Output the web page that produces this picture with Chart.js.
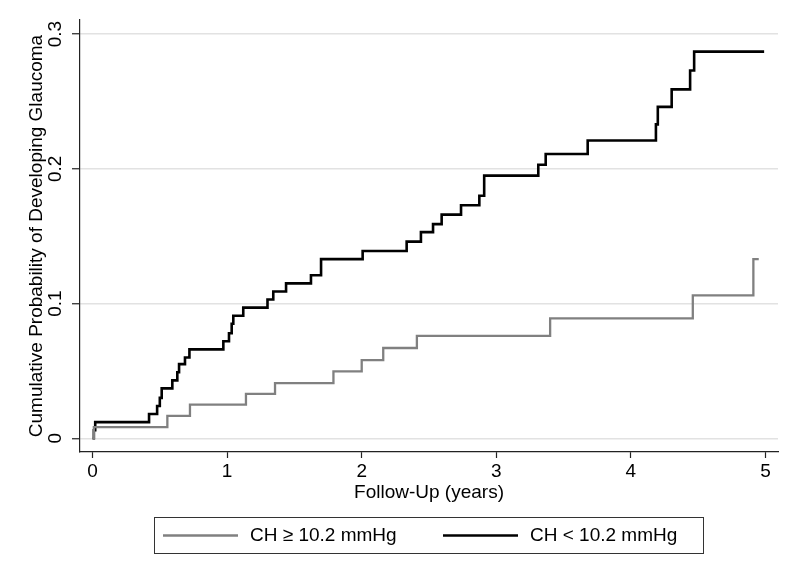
<!DOCTYPE html>
<html>
<head>
<meta charset="utf-8">
<script src="https://cdn.jsdelivr.net/npm/chart.js@4.4.1/dist/chart.umd.min.js"></script>
<style>
  html, body { margin: 0; padding: 0; background: #fff; }
  canvas { display: block; }
</style>
</head>
<body>
<canvas id="kmChart" width="800" height="581"></canvas>
<script>
// cumulative probability curves
const lowChTimes = [0, 0.01, 0.02, 0.42, 0.48, 0.50, 0.514, 0.593, 0.63, 0.643, 0.687, 0.72, 0.972, 1.014, 1.034, 1.046, 1.12, 1.30, 1.343, 1.438, 1.623, 1.698, 2.007, 2.334, 2.44, 2.53, 2.594, 2.738, 2.874, 2.91, 3.312, 3.367, 3.679, 4.186, 4.20, 4.303, 4.44, 4.47, 4.99];
const lowChProb = [0, 0.006, 0.012, 0.018, 0.024, 0.030, 0.037, 0.043, 0.049, 0.055, 0.060, 0.066, 0.072, 0.078, 0.085, 0.091, 0.097, 0.103, 0.109, 0.115, 0.121, 0.133, 0.139, 0.146, 0.153, 0.159, 0.166, 0.173, 0.180, 0.195, 0.203, 0.211, 0.221, 0.233, 0.246, 0.259, 0.273, 0.287, 0.287];

const highChTimes = [0, 0.01, 0.556, 0.724, 1.14, 1.356, 1.79, 2.0, 2.16, 2.41, 3.40, 4.46, 4.91, 4.95];
const highChProb = [0, 0.0083, 0.0166, 0.025, 0.033, 0.041, 0.0496, 0.058, 0.067, 0.076, 0.089, 0.106, 0.133, 0.133];

const xTicks = [0, 1, 2, 3, 4, 5];
const yTicks = [0, 0.1, 0.2, 0.3];
const seriesLabels = ['CH \u2265 10.2 mmHg', 'CH < 10.2 mmHg'];
const seriesColors = ['#808080', '#000000'];

function toPoints(times, probs) {
    return times.map((t, i) => ({ x: t, y: probs[i] }));
}

Chart.defaults.font.family = "'Liberation Sans', Arial, Helvetica, sans-serif";
Chart.defaults.font.size = 19;
Chart.defaults.color = '#000';

const whiteBg = {
    id: 'whiteBg',
    beforeDraw(chart) {
        const ctx = chart.ctx;
        ctx.save();
        ctx.fillStyle = '#fff';
        ctx.fillRect(0, 0, chart.width, chart.height);
        ctx.restore();
    }
};

// framed legend under the x axis title
const legendBox = {
    id: 'legendBox',
    afterDraw(chart) {
        const ctx = chart.ctx;
        const box = { left: 154.5, top: 517.5, width: 549, height: 36 };
        const midY = box.top + box.height / 2;
        const items = [
            { lineX: 163, textX: 250 },
            { lineX: 443, textX: 530 }
        ];
        ctx.save();
        ctx.strokeStyle = '#333';
        ctx.lineWidth = 1;
        ctx.strokeRect(box.left, box.top, box.width, box.height);
        chart.data.datasets.forEach((ds, i) => {
            const it = items[i];
            ctx.strokeStyle = ds.borderColor;
            ctx.lineWidth = ds.borderWidth;
            ctx.beginPath();
            ctx.moveTo(it.lineX, midY);
            ctx.lineTo(it.lineX + 75, midY);
            ctx.stroke();
            ctx.fillStyle = '#000';
            ctx.font = "19px 'Liberation Sans', Arial, sans-serif";
            ctx.textBaseline = 'middle';
            ctx.textAlign = 'left';
            ctx.fillText(ds.label, it.textX, midY);
        });
        ctx.restore();
    }
};

const ctx = document.getElementById('kmChart').getContext('2d');
window.kmChart = new Chart(ctx, {
    type: 'line',
    data: {
        datasets: [
            {
                label: seriesLabels[0],
                data: toPoints(highChTimes, highChProb),
                borderColor: seriesColors[0],
                borderWidth: 2.3,
                stepped: true,
                pointRadius: 0,
                fill: false
            },
            {
                label: seriesLabels[1],
                data: toPoints(lowChTimes, lowChProb),
                borderColor: seriesColors[1],
                borderWidth: 2.6,
                stepped: true,
                pointRadius: 0,
                fill: false
            }
        ]
    },
    options: {
        responsive: false,
        animation: false,
        layout: { padding: { top: 20, right: 22, left: 0, bottom: 69 } },
        plugins: {
            legend: { display: false },
            tooltip: { enabled: false }
        },
        scales: {
            x: {
                type: 'linear',
                min: -0.093,
                max: 5.093,
                afterBuildTicks: axis => { axis.ticks = xTicks.map(v => ({ value: v })); },
                afterFit: axis => { axis.height = 60; },
                ticks: { padding: 2, maxRotation: 0, color: '#000', callback: v => String(v) },
                grid: { drawOnChartArea: false, drawTicks: true, tickLength: 6, tickColor: '#222', tickWidth: 1.2 },
                border: { display: true, color: '#222', width: 1.2 },
                title: { display: true, text: 'Follow-Up (years)', color: '#000', padding: { top: 0, bottom: 8 } }
            },
            y: {
                type: 'linear',
                min: -0.0102,
                max: 0.3105,
                afterBuildTicks: axis => { axis.ticks = yTicks.map(v => ({ value: v })); },
                afterFit: axis => { axis.width = 80; },
                ticks: { padding: 3, minRotation: 90, maxRotation: 90, crossAlign: 'center', color: '#000', callback: v => String(v) },
                grid: { color: '#e2e2e2', lineWidth: 1.5, drawTicks: true, tickLength: 8, tickColor: '#222', tickWidth: 1.2 },
                border: { display: true, color: '#222', width: 1.2 },
                title: { display: true, text: 'Cumulative Probability of Developing Glaucoma', color: '#000', padding: { top: 25, bottom: 0 } }
            }
        }
    },
    plugins: [whiteBg, legendBox]
});
</script>
</body>
</html>
